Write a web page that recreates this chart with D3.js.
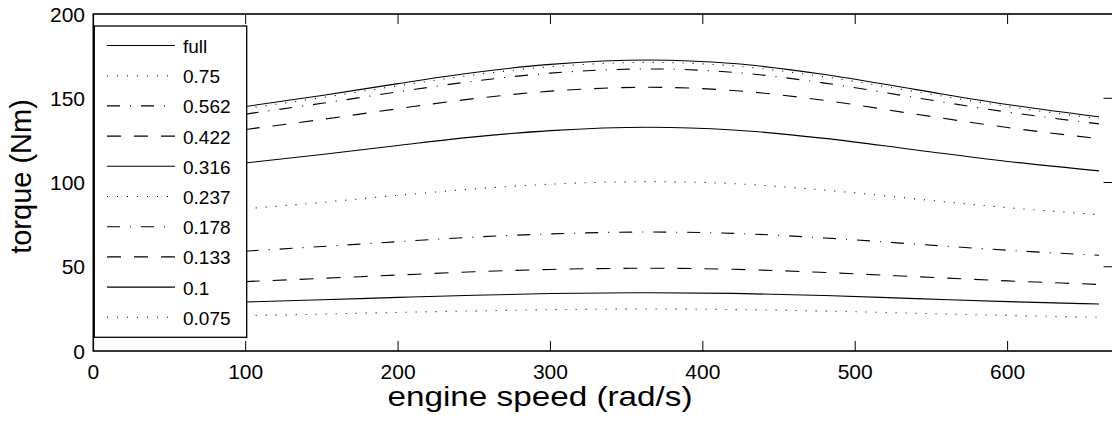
<!DOCTYPE html>
<html>
<head>
<meta charset="utf-8">
<script src="https://cdn.jsdelivr.net/npm/d3@7"></script>
<style>
  body { margin: 0; background: #fff; }
  text { font-family: "Liberation Sans", Arial, Helvetica, sans-serif; fill: #000; }
</style>
</head>
<body>
<script>
const width = 1112;
const height = 421;

// engine speed samples (rad/s)
const speed = [100, 150, 200, 250, 300, 365, 420, 480, 540, 600, 660];

// torque (Nm) per throttle setting
const full = [145.1, 151.6, 158.7, 165.3, 170.1, 172.7, 170.6, 164.1, 155.1, 146.3, 139.0];
const t750 = [143.9, 150.4, 157.4, 163.9, 168.7, 171.3, 169.2, 162.7, 153.8, 145.1, 137.9];
const t562 = [140.6, 147.0, 153.8, 160.2, 164.9, 167.4, 165.4, 159.0, 150.3, 141.8, 134.8];
const t422 = [131.5, 137.4, 143.8, 149.8, 154.2, 156.5, 154.6, 148.7, 140.5, 132.6, 126.0];
const t316 = [111.6, 116.6, 122.0, 127.1, 130.8, 132.8, 131.2, 126.2, 119.3, 112.5, 106.9];
const t237 = [84.4, 88.2, 92.4, 96.2, 99.0, 100.5, 99.3, 95.5, 90.2, 85.1, 80.9];
const t178 = [59.3, 62.0, 64.9, 67.6, 69.5, 70.6, 69.8, 67.1, 63.4, 59.8, 56.8];
const t133 = [41.2, 43.1, 45.1, 47.0, 48.4, 49.1, 48.5, 46.6, 44.1, 41.6, 39.5];
const t100 = [29.1, 30.4, 31.8, 33.1, 34.1, 34.6, 34.2, 32.9, 31.1, 29.3, 27.9];
const t075 = [20.9, 21.9, 22.9, 23.8, 24.5, 24.9, 24.6, 23.7, 22.4, 21.1, 20.0];

const labels = ["full", "0.75", "0.562", "0.422", "0.316", "0.237", "0.178", "0.133", "0.1", "0.075"];
const values = [full, t750, t562, t422, t316, t237, t178, t133, t100, t075];
const styles = ["solid", "dot", "dashdot", "dash", "solid", "dot", "dashdot", "dash", "solid", "dot"];

const xTicks = [0, 100, 200, 300, 400, 500, 600];
const yTicks = [0, 50, 100, 150, 200];

const dashes = { solid: null, dot: "1,9", dashdot: "13,10,1,10", dash: "14,13" };

const mLeft = 93.3, mRight = 1113.5, mTop = 14, mBottom = 351;

const x = d3.scaleLinear([0, 669.5], [mLeft, mRight]);
const y = d3.scaleLinear([0, 200], [mBottom, mTop]);

const svg = d3.create("svg")
  .attr("width", width)
  .attr("height", height)
  .attr("viewBox", [0, 0, width, height]);

svg.append("rect").attr("width", width).attr("height", height).attr("fill", "#fff");

// curves
const line = d3.line()
  .x((d, i) => x(speed[i]))
  .y((d) => y(d))
  .curve(d3.curveMonotoneX);

svg.append("g")
  .selectAll("path")
  .data(values)
  .join("path")
  .attr("d", line)
  .attr("fill", "none")
  .attr("stroke", "#000")
  .attr("stroke-width", 1.1)
  .attr("stroke-dasharray", (d, i) => dashes[styles[i]]);

// inward ticks on all four sides
const tickLen = 10;
const g = svg.append("g").attr("stroke", "#000").attr("stroke-width", 1);
xTicks.slice(1).forEach((t) => {
  g.append("line").attr("x1", x(t)).attr("x2", x(t)).attr("y1", mBottom).attr("y2", mBottom - tickLen);
  g.append("line").attr("x1", x(t)).attr("x2", x(t)).attr("y1", mTop).attr("y2", mTop + tickLen);
});
yTicks.slice(1, -1).forEach((t) => {
  g.append("line").attr("x1", mLeft).attr("x2", mLeft + tickLen).attr("y1", y(t)).attr("y2", y(t));
  g.append("line").attr("x1", mRight).attr("x2", mRight - tickLen).attr("y1", y(t)).attr("y2", y(t));
});

// frame
svg.append("rect")
  .attr("x", mLeft).attr("y", mTop)
  .attr("width", mRight - mLeft).attr("height", mBottom - mTop)
  .attr("fill", "none").attr("stroke", "#000").attr("stroke-width", 1.6);

// tick labels
svg.append("g")
  .selectAll("text")
  .data(xTicks)
  .join("text")
  .attr("x", (d) => x(d))
  .attr("y", 379)
  .attr("text-anchor", "middle")
  .attr("font-size", 21)
  .text((d) => d);

svg.append("g")
  .selectAll("text")
  .data(yTicks)
  .join("text")
  .attr("x", 85)
  .attr("y", (d) => y(d) + 7.5)
  .attr("text-anchor", "end")
  .attr("font-size", 21)
  .text((d) => d);

// axis titles
svg.append("text")
  .attr("x", 540)
  .attr("y", 406)
  .attr("text-anchor", "middle")
  .attr("font-size", 28)
  .attr("textLength", 305)
  .attr("lengthAdjust", "spacingAndGlyphs")
  .text("engine speed (rad/s)");

svg.append("text")
  .attr("transform", "translate(31,176.5) rotate(-90)")
  .attr("text-anchor", "middle")
  .attr("font-size", 29)
  .text("torque (Nm)");

// legend
const lg = svg.append("g");
lg.append("rect")
  .attr("x", 94.3).attr("y", 26)
  .attr("width", 152.4).attr("height", 311.3)
  .attr("fill", "#fff").attr("stroke", "#000").attr("stroke-width", 1.3);

const row = d3.scaleLinear([0, 9], [45.5, 317.3]);
const items = lg.selectAll("g.item").data(labels).join("g").attr("class", "item");
items.append("line")
  .attr("x1", 107).attr("x2", 175)
  .attr("y1", (d, i) => row(i)).attr("y2", (d, i) => row(i))
  .attr("stroke", "#000").attr("stroke-width", 1.1)
  .attr("stroke-dasharray", (d, i) => dashes[styles[i]]);
items.append("text")
  .attr("x", 183)
  .attr("y", (d, i) => row(i) + 7.5)
  .attr("font-size", 19)
  .text((d) => d);

document.body.appendChild(svg.node());
</script>
</body>
</html>
